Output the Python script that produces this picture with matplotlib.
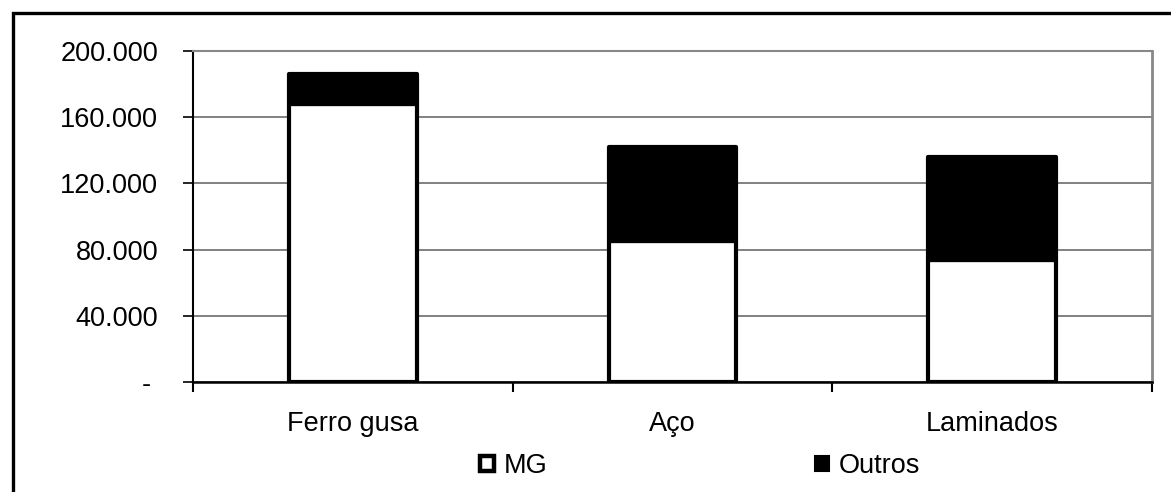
import matplotlib
matplotlib.use("Agg")
import matplotlib.pyplot as plt
from matplotlib.patches import Rectangle, Patch
from matplotlib.ticker import FixedLocator, FuncFormatter

categories = ["Ferro gusa", "Aço", "Laminados"]
mg = [168000, 85000, 74000]
outros = [18000, 57000, 62000]
series_names = ["MG", "Outros"]
y_ticks = [0, 40000, 80000, 120000, 160000, 200000]

plt.rcParams["font.family"] = ["Liberation Sans", "DejaVu Sans"]
FS = 19.5

W, H, DPI = 1171, 492, 100
fig = plt.figure(figsize=(W / DPI, H / DPI), dpi=DPI)
fig.patch.set_facecolor("white")

# outer chart frame (runs off the right and bottom edges)
fig.patches.append(Rectangle((13 / W, -0.05), 1.2, 1 - 13 / H + 0.05,
                             transform=fig.transFigure, fill=False,
                             edgecolor="black", linewidth=2.4, zorder=0))

ax = fig.add_axes([193 / W, 1 - 382 / H, (1152 - 193) / W, (382 - 51) / H])
x = list(range(len(categories)))
ax.bar(x, mg, width=0.4, color="white", edgecolor="black", linewidth=3,
       joinstyle="round", zorder=3, label=series_names[0])
ax.bar(x, outros, bottom=mg, width=0.4, color="black", edgecolor="black",
       linewidth=3, joinstyle="round", zorder=3, label=series_names[1])

ax.set_xlim(-0.5, len(categories) - 0.5)
ax.set_ylim(0, 200000)

ax.yaxis.set_major_locator(FixedLocator(y_ticks))
ax.yaxis.set_major_formatter(FuncFormatter(
    lambda v, p: "- " if v == 0 else f"{int(v):,}".replace(",", ".")))
ax.grid(axis="y", color="#777777", linewidth=1.3, zorder=1)
ax.tick_params(axis="y", direction="out", length=7, width=1.2, pad=18,
               labelsize=FS, colors="black")

ax.set_xticks(x)
ax.set_xticklabels(categories)
ax.set_xticks([i - 0.5 for i in range(len(categories) + 1)], minor=True)
ax.tick_params(axis="x", which="major", length=0, pad=21, labelsize=FS)
ax.tick_params(axis="x", which="minor", direction="out", length=7, width=1.5)

ax.spines["left"].set_color("black")
ax.spines["left"].set_linewidth(1.5)
ax.spines["bottom"].set_color("black")
ax.spines["bottom"].set_linewidth(1.8)
ax.spines["top"].set_color("#888888")
ax.spines["top"].set_linewidth(1.5)
ax.spines["right"].set_color("#888888")
ax.spines["right"].set_linewidth(2)

handles = [Patch(facecolor="white", edgecolor="black", linewidth=3.2),
           Patch(facecolor="black", edgecolor="black", linewidth=1.5)]
fig.legend(handles, series_names, loc="center", ncol=2,
           bbox_to_anchor=(700 / W, 1 - 466 / H), frameon=False,
           fontsize=FS, handlelength=0.5, handleheight=0.5,
           handletextpad=0.35, columnspacing=9.9, borderpad=0)

fig.savefig("out.png", dpi=DPI, facecolor="white")
